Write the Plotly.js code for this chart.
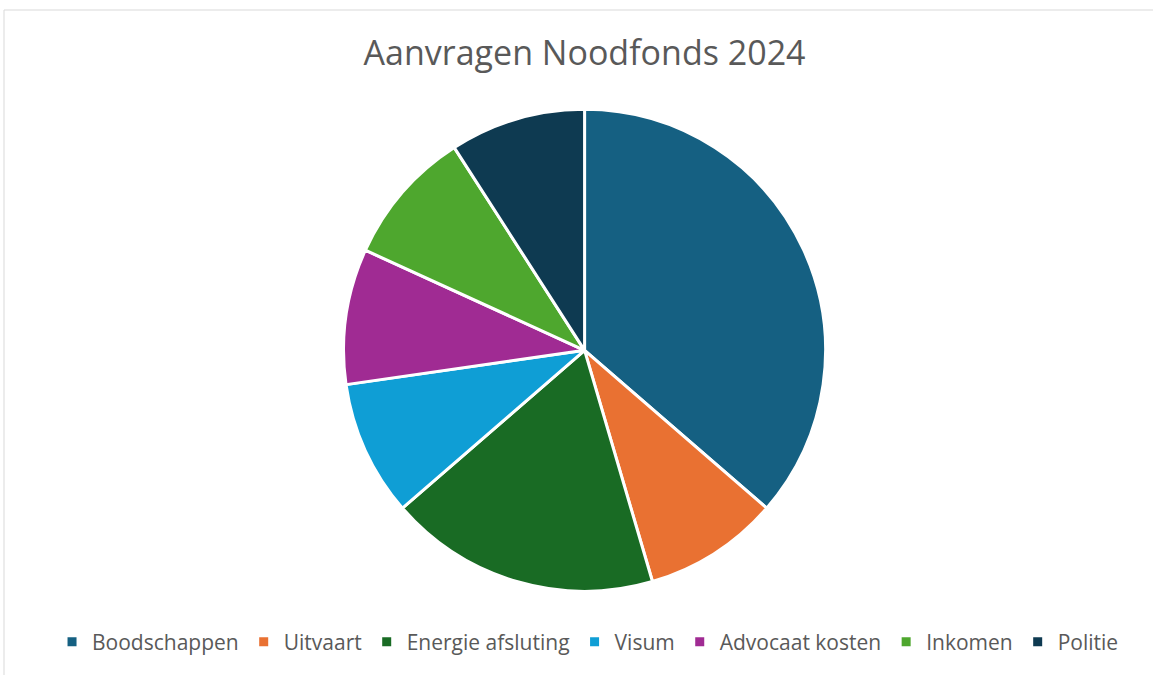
<!DOCTYPE html>
<html><head><meta charset="utf-8">
<script src="https://cdn.plot.ly/plotly-3.0.1.min.js"></script>
<style>html,body{margin:0;padding:0;background:#fff;}#chart{width:1153px;height:675px;}</style>
</head><body><div id="chart"></div>
<script>
const categories = ["Boodschappen","Uitvaart","Energie afsluting","Visum","Advocaat kosten","Inkomen","Politie"];
const values = [4,1,2,1,1,1,1];
const colors = ["#156082","#E97132","#196B24","#0F9ED5","#A02B93","#4EA72E","#0E3A51"];

const trace = {
  type:"pie", labels:categories, values:values, sort:false, direction:"clockwise", rotation:0,
  marker:{colors:colors, line:{color:"#ffffff", width:3}},
  textinfo:"none", hoverinfo:"label+value+percent",
  domain:{x:[0.205,0.809], y:[0.124,0.838]}
};
const layout = {
  width:1153, height:675, margin:{l:0,r:0,t:0,b:0},
  paper_bgcolor:"#fff",
  title:{text:"Aanvragen Noodfonds 2024", x:0.507, xanchor:"center", y:1-53/675, yanchor:"middle",
    font:{family:"Open Sans, sans-serif", size:34, color:"#595959"}},
  showlegend:true,
  legend:{orientation:"h", x:0.51, xanchor:"center", y:1-642/675, yanchor:"middle",
    font:{family:"Open Sans, sans-serif", size:21, color:"#595959"}, itemwidth:30, traceorder:"normal"},
  shapes:[{type:"rect", xref:"paper", yref:"paper", x0:4/1153, x1:1.01, y0:-0.05, y1:1-10/675,
    line:{color:"#d9d9d9", width:1}, fillcolor:"rgba(0,0,0,0)"}]
};
Plotly.newPlot("chart",[trace],layout,{displayModeBar:false});
</script></body></html>
